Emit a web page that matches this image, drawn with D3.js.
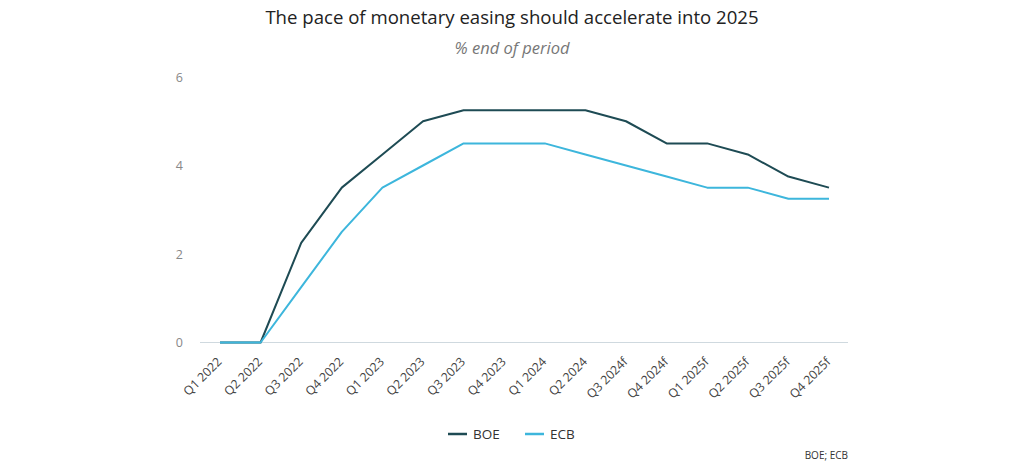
<!DOCTYPE html>
<html><head><meta charset="utf-8">
<script src="https://cdn.jsdelivr.net/npm/d3@7"></script>
<style>body{margin:0;background:#fff;font-family:"Open Sans",sans-serif;}</style>
</head><body>
<svg id="c" width="1024" height="465"></svg>
<script>
const categories = ["Q1 2022","Q2 2022","Q3 2022","Q4 2022","Q1 2023","Q2 2023","Q3 2023","Q4 2023","Q1 2024","Q2 2024","Q3 2024f","Q4 2024f","Q1 2025f","Q2 2025f","Q3 2025f","Q4 2025f"];
const boe = [0,0,2.25,3.5,4.25,5,5.25,5.25,5.25,5.25,5,4.5,4.5,4.25,3.75,3.5];
const ecb = [0,0,1.25,2.5,3.5,4,4.5,4.5,4.5,4.25,4,3.75,3.5,3.5,3.25,3.25];
const yTicks = [0,2,4,6];
const seriesNames = ["BOE","ECB"];
const colors = ["#1e4b54","#3db6dc"];

const svg = d3.select("#c");
const x = d3.scalePoint().domain(categories).range([220,829]);
const y = d3.scaleLinear().domain([0,6]).range([342.5,77]);

svg.append("text").attr("x",512).attr("y",24).attr("text-anchor","middle")
  .attr("font-size",18.6).attr("fill","#222").text("The pace of monetary easing should accelerate into 2025");
svg.append("text").attr("x",512).attr("y",54).attr("text-anchor","middle")
  .attr("font-size",16.5).attr("font-style","italic").attr("fill","#777").text("% end of period");

// y axis labels
const ya = svg.append("g").attr("transform","translate(183,0)")
  .call(d3.axisLeft(y).tickValues(yTicks).tickFormat(d3.format("d")).tickSize(0).tickPadding(0));
ya.select(".domain").remove();
ya.selectAll("text").attr("font-size",12.5).attr("fill","#888").attr("font-family","Open Sans");

// baseline
svg.append("line").attr("x1",200).attr("x2",848).attr("y1",y(0)).attr("y2",y(0))
  .attr("stroke","#cfd9df").attr("stroke-width",1);

// x axis
const xa = svg.append("g").attr("transform",`translate(0,${y(0)})`)
  .call(d3.axisBottom(x).tickSize(0).tickPadding(0));
xa.select(".domain").remove();
xa.selectAll("text").attr("font-size",12.3).attr("fill","#444").attr("font-family","Open Sans")
  .attr("text-anchor","end").attr("dy",0)
  .attr("transform","translate(2,20) rotate(-45)");

const line = d3.line().x((d,i)=>x(categories[i])).y(d=>y(d));
[boe,ecb].forEach((s,k)=>{
  svg.append("path").datum(s).attr("d",line).attr("fill","none")
    .attr("stroke",colors[k]).attr("stroke-width",2).attr("stroke-linejoin","round");
});

// legend
const lx = [448,525];
seriesNames.forEach((n,k)=>{
  svg.append("line").attr("x1",lx[k]).attr("x2",lx[k]+19).attr("y1",434).attr("y2",434)
    .attr("stroke",colors[k]).attr("stroke-width",2.5);
  svg.append("text").attr("x",lx[k]+25).attr("y",439).attr("font-size",13.5).attr("fill","#333").text(n);
});

svg.append("text").attr("x",848).attr("y",459).attr("text-anchor","end")
  .attr("font-size",10).attr("fill","#333").text("BOE; ECB");
</script>
</body></html>
